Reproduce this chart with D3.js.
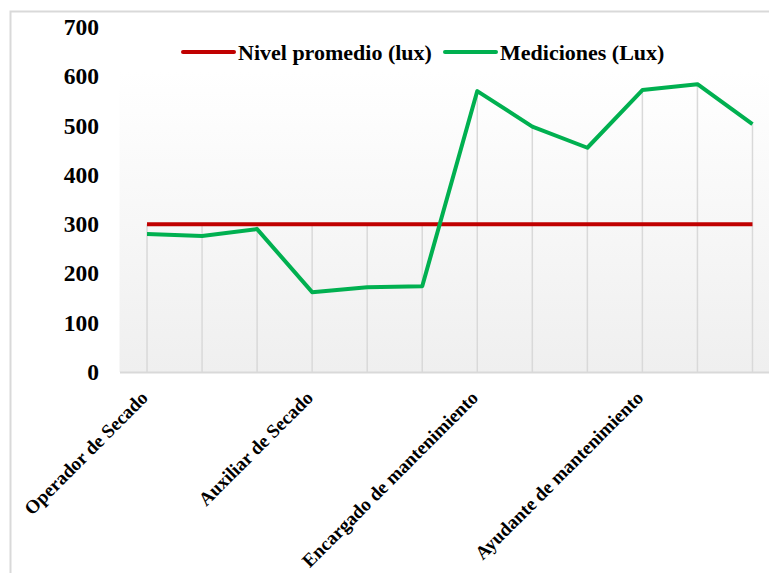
<!DOCTYPE html>
<html>
<head>
<meta charset="utf-8">
<script src="https://cdn.jsdelivr.net/npm/d3@7"></script>
<style>
  body { margin: 0; background: #fff; }
  text { font-family: "Liberation Serif", "Times New Roman", serif; font-weight: bold; fill: #000; }
</style>
</head>
<body>
<div id="chart"></div>
<script>
var svgWidth = 769;
var svgHeight = 573;

// data
var puestos = ["Operador de Secado", "", "", "Auxiliar de Secado", "", "",
  "Encargado de mantenimiento", "", "", "Ayudante de mantenimiento", "", ""];
var nivelPromedio = [300, 300, 300, 300, 300, 300, 300, 300, 300, 300, 300, 300];
var mediciones = [280, 276, 290, 162, 172, 174, 570, 498, 455, 572, 584, 503];
var yTicks = [0, 100, 200, 300, 400, 500, 600, 700];
var seriesNames = ["Nivel promedio (lux)", "Mediciones (Lux)"];
var seriesColors = ["#c00000", "#00b050"];

var svg = d3.select("#chart")
  .append("svg")
  .attr("width", svgWidth)
  .attr("height", svgHeight);

// chart border (cut off on the right and bottom like the picture)
svg.append("rect")
  .attr("x", 10.5).attr("y", 11.5)
  .attr("width", 800).attr("height", 600)
  .attr("fill", "none")
  .attr("stroke", "#d9d9d9")
  .attr("stroke-width", 2);

var plotLeft = 119.5, plotRight = 780, plotTop = 72;

var xScale = d3.scaleBand()
  .domain(d3.range(puestos.length))
  .range([plotLeft, plotRight]);

var yScale = d3.scaleLinear()
  .domain([0, 700])
  .range([372, 27]);

var grad = svg.append("defs").append("linearGradient")
  .attr("id", "bg").attr("x1", 0).attr("y1", 0).attr("x2", 0).attr("y2", 1);
grad.append("stop").attr("offset", "0%").attr("stop-color", "#ffffff");
grad.append("stop").attr("offset", "100%").attr("stop-color", "#efefef");

svg.append("rect")
  .attr("x", plotLeft).attr("y", plotTop)
  .attr("width", plotRight - plotLeft)
  .attr("height", yScale(0) - plotTop)
  .attr("fill", "url(#bg)");

var cx = i => xScale(i) + xScale.bandwidth() / 2;

// drop lines from the highest value to the axis
svg.selectAll(".drop")
  .data(d3.range(puestos.length))
  .enter()
  .append("line")
  .attr("x1", cx).attr("x2", cx)
  .attr("y1", i => yScale(Math.max(mediciones[i], nivelPromedio[i])))
  .attr("y2", yScale(0))
  .attr("stroke", "#d9d9d9")
  .attr("stroke-width", 1.5);

// x axis
var xAxis = d3.axisBottom(xScale)
  .tickSize(0)
  .tickFormat(i => puestos[i]);

var xg = svg.append("g")
  .attr("transform", `translate(0, ${yScale(0)})`)
  .call(xAxis);
xg.select(".domain").attr("stroke", "#d9d9d9").attr("stroke-width", 2);
xg.selectAll(".tick text")
  .attr("font-size", "19px")
  .attr("font-family", "Liberation Serif")
  .attr("text-anchor", "end")
  .attr("transform", "translate(2, 27) rotate(-45)")
  .attr("dy", 0)
  .attr("y", 0);

// y axis
var yAxis = d3.axisLeft(yScale)
  .tickValues(yTicks)
  .tickSize(0)
  .tickPadding(0);

var yg = svg.append("g")
  .attr("transform", "translate(99, 0)")
  .call(yAxis);
yg.select(".domain").remove();
yg.selectAll(".tick text")
  .attr("font-size", "23.5px")
  .attr("font-family", "Liberation Serif");

// lines
var line = d3.line()
  .x((d, i) => cx(i))
  .y(d => yScale(d));

[nivelPromedio, mediciones].forEach(function(s, k) {
  svg.append("path")
    .datum(s)
    .attr("fill", "none")
    .attr("stroke", seriesColors[k])
    .attr("stroke-width", 4)
    .attr("stroke-linejoin", "round")
    .attr("d", line);
});

// legend
var legendX = [183, 445];
seriesNames.forEach(function(name, k) {
  svg.append("line")
    .attr("x1", legendX[k]).attr("x2", legendX[k] + 51)
    .attr("y1", 52).attr("y2", 52)
    .attr("stroke", seriesColors[k])
    .attr("stroke-width", 4)
    .attr("stroke-linecap", "round");
  svg.append("text")
    .attr("x", legendX[k] + 55)
    .attr("y", 60)
    .attr("font-size", "22px")
    .text(name);
});
</script>
</body>
</html>
